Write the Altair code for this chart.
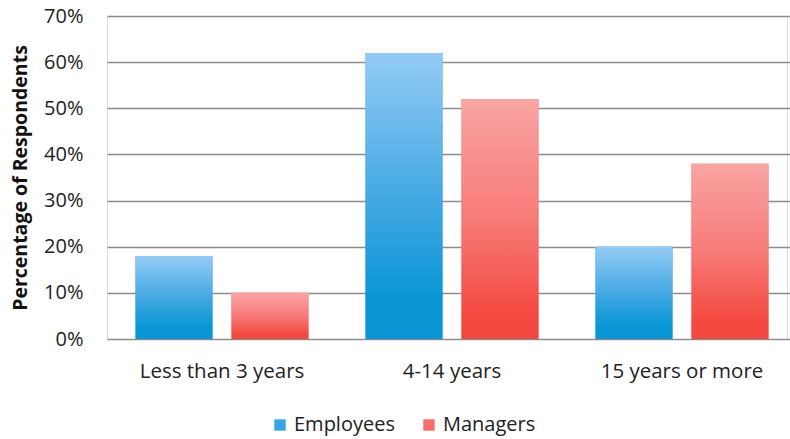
import altair as alt
import pandas as pd

categories = ["Less than 3 years", "4-14 years", "15 years or more"]
series = ["Employees", "Managers"]
employees = [18, 62, 20]
managers = [10, 52, 38]
y_ticks = [0, 10, 20, 30, 40, 50, 60, 70]

rows = []
for c, e, m in zip(categories, employees, managers):
    rows.append({"category": c, "series": "Employees", "value": e})
    rows.append({"category": c, "series": "Managers", "value": m})
df = pd.DataFrame(rows)

FONT = "Open Sans"

blue_grad = alt.Gradient(
    gradient="linear", x1=0, x2=0, y1=0, y2=1,
    stops=[alt.GradientStop(color="#93cbf5", offset=0),
           alt.GradientStop(color="#45a9e3", offset=0.5),
           alt.GradientStop(color="#0a96d5", offset=0.85),
           alt.GradientStop(color="#0a96d5", offset=1)])
red_grad = alt.Gradient(
    gradient="linear", x1=0, x2=0, y1=0, y2=1,
    stops=[alt.GradientStop(color="#f9a4a4", offset=0),
           alt.GradientStop(color="#f77b78", offset=0.5),
           alt.GradientStop(color="#f3483f", offset=0.9),
           alt.GradientStop(color="#f3483f", offset=1)])

x_enc = alt.X("category:N", sort=categories,
              scale=alt.Scale(range=[0, 690], paddingInner=0.248, paddingOuter=0.124),
              axis=alt.Axis(title=None, labelAngle=0, ticks=False, domain=False,
                            labelFont=FONT, labelFontSize=20.5, labelColor="#222222",
                            labelPadding=22))
y_enc = alt.Y("value:Q",
              scale=alt.Scale(domain=[0, 70], nice=False),
              axis=alt.Axis(title="Percentage of Respondents", values=y_ticks,
                            labelExpr="datum.value + '%'", ticks=False, domain=False,
                            labelFont=FONT, labelFontSize=20, labelColor="#222222",
                            labelPadding=24, gridColor="#8c8c8c", gridWidth=1.5,
                            titleFont=FONT, titleFontSize=19.5, titleFontWeight="bold",
                            titleColor="#111111", titlePadding=13))
xoff = alt.XOffset("series:N", sort=series,
                   scale=alt.Scale(paddingInner=0.198, paddingOuter=0))

base = alt.Chart(df).mark_bar().encode(
    x=x_enc, y=y_enc, xOffset=xoff,
    color=alt.Color("series:N", sort=series,
                    scale=alt.Scale(domain=series, range=["#3aa6e0", "#f6706b"]),
                    legend=alt.Legend(title=None, orient="none", direction="horizontal",
                                      legendX=163, legendY=399, symbolType="square",
                                      symbolSize=130, labelFont=FONT, labelFontSize=20,
                                      labelColor="#222222", columnPadding=24,
                                      symbolStrokeWidth=0, labelOffset=4)))

emp = alt.Chart(df).transform_filter(alt.datum.series == "Employees").mark_bar(
    color=blue_grad).encode(x=x_enc, y=y_enc, xOffset=xoff)
man = alt.Chart(df).transform_filter(alt.datum.series == "Managers").mark_bar(
    color=red_grad).encode(x=x_enc, y=y_enc, xOffset=xoff)

chart = alt.layer(base, emp, man).properties(
    width=680, height=323,
    autosize=alt.AutoSizeParams(type="none"),
    padding={"left": 107, "top": 16, "right": 3, "bottom": 100},
).configure_view(stroke=None).configure(background="white")

chart.save("out.html", embed_options={"renderer": "svg", "actions": False})
